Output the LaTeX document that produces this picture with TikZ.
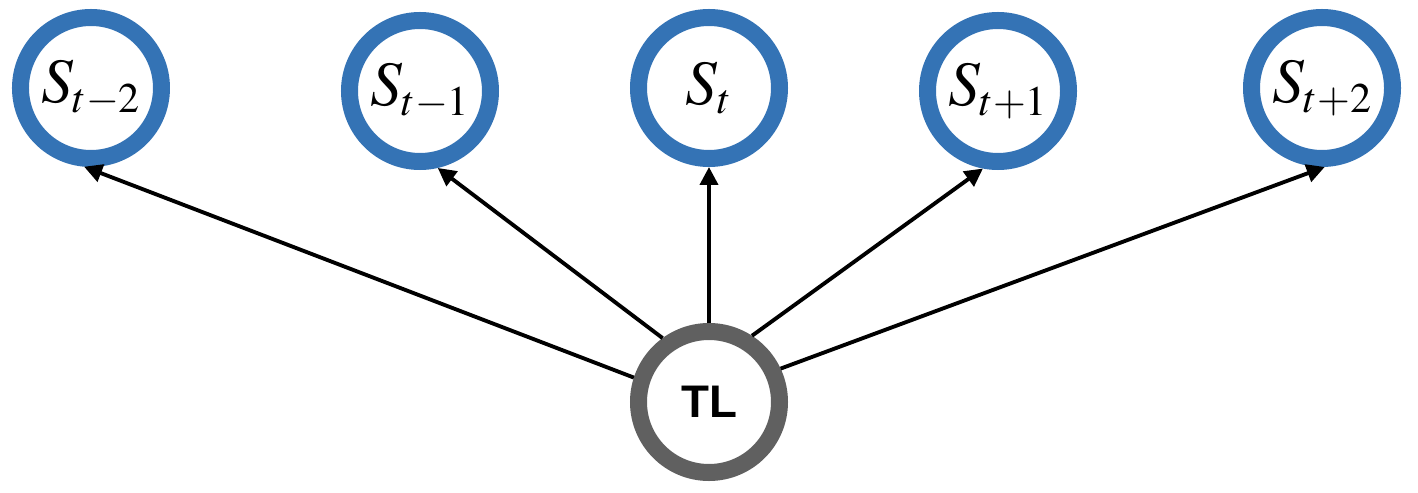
\documentclass[tikz,border=0pt]{standalone}
\usepackage{mathptmx}
\usepackage[no-math]{fontspec}
\setmainfont{Liberation Serif}
\setsansfont{Liberation Sans}
\usetikzlibrary{positioning,arrows.meta}
\DeclareMathSizes{36}{36}{24}{18}
\definecolor{stateblue}{RGB}{52,115,181}
\definecolor{tlgray}{RGB}{96,96,96}

\begin{document}
\begin{tikzpicture}[
    node distance=5.78cm,
    on grid,
    state/.style={circle, draw=stateblue, line width=0.34cm, minimum size=2.82cm, inner sep=0pt, font=\fontsize{36}{40}\selectfont},
    latent/.style={circle, draw=tlgray, line width=0.34cm, minimum size=2.82cm, inner sep=0pt, font=\fontsize{26}{30}\selectfont\sffamily\bfseries},
    arrow/.style={line width=2.2pt, -{Triangle[length=0.36cm,width=0.36cm]}}
]
    \useasboundingbox (-14.18,-1.8) rectangle (14.18,8.04);

    % Nodo latente y estados
    \node[latent] (tl) {TL};
    \node[state, above=6.28cm of tl] (st) {$S_t$};
    \node[state, left=of st, yshift=-0.06cm] (sm1) {$S_{t-1}$};
    \node[state, left=6.58cm of sm1, yshift=0.06cm] (sm2) {$S_{t-2}$};
    \node[state, right=of st, yshift=-0.06cm] (sp1) {$S_{t+1}$};
    \node[state, right=6.48cm of sp1, yshift=0.06cm] (sp2) {$S_{t+2}$};

    % Flechas desde TL
    \draw[arrow] (tl.162) -- (sm2.-95);
    \draw[arrow] (tl.126) -- (sm1.-77);
    \draw[arrow] (tl) -- (st);
    \draw[arrow] (tl.57) -- (sp1.-101);
    \draw[arrow] (tl.25) -- (sp2.-88);
\end{tikzpicture}
\end{document}
